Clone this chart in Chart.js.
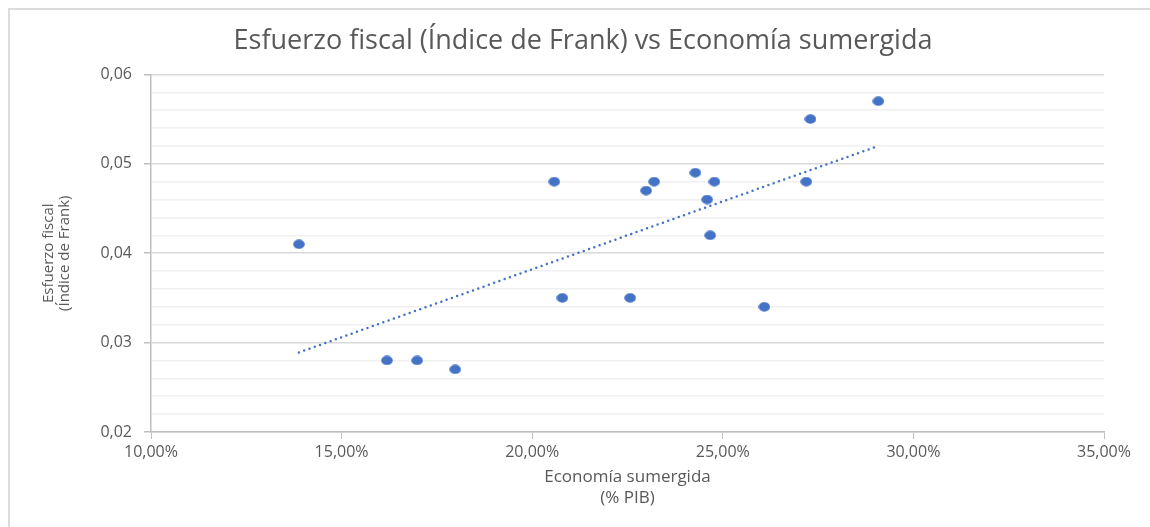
<!DOCTYPE html>
<html lang="es">
<head>
    <meta charset="UTF-8">
    <title>Esfuerzo fiscal vs Economía sumergida</title>
    <script src="https://cdn.jsdelivr.net/npm/chart.js"></script>
    <style>
        html, body { margin: 0; padding: 0; background: #fff; }
        .frame {
            position: absolute; left: 8px; top: 8px; width: 1142px; height: 519px;
            border-top: 2px solid #dcdcdc; border-left: 2px solid #dcdcdc;
        }
        .chart-box { position: absolute; left: 0; top: 0; width: 1150px; height: 527px; }
    </style>
</head>
<body>
    <div class="frame"></div>
    <div class="chart-box"><canvas id="grafico"></canvas></div>

    <script>
        // Datos
        const economiaSumergida = [13.88, 16.19, 16.98, 17.98, 20.58, 20.79, 22.57, 22.99, 23.2, 24.28, 24.59, 24.78, 24.67, 26.09, 27.19, 27.3, 29.08];
        const esfuerzoFiscal = [0.041, 0.028, 0.028, 0.027, 0.048, 0.035, 0.035, 0.047, 0.048, 0.049, 0.046, 0.048, 0.042, 0.034, 0.048, 0.055, 0.057];

        // Línea de tendencia (extremos)
        const tendenciaX = [13.88, 29.08];
        const tendenciaY = [0.0289, 0.0520];

        const azul = '#4472C4';
        const gris = '#595959';

        // Marcador ligeramente ovalado como en el original
        const punto = document.createElement('canvas');
        punto.width = 12; punto.height = 10;
        const pc = punto.getContext('2d');
        pc.fillStyle = azul;
        pc.beginPath();
        pc.ellipse(6, 5, 5.8, 4.7, 0, 0, 2 * Math.PI);
        pc.fill();

        const esMayor = v => Math.round(v * 1000) % 10 === 0;

        const ctx = document.getElementById('grafico').getContext('2d');
        new Chart(ctx, {
            type: 'scatter',
            data: {
                datasets: [{
                    label: 'Países',
                    data: economiaSumergida.map((x, i) => ({ x: x, y: esfuerzoFiscal[i] })),
                    pointStyle: punto,
                    pointRadius: 6,
                    order: 1
                }, {
                    label: 'Tendencia',
                    data: tendenciaX.map((x, i) => ({ x: x, y: tendenciaY[i] })),
                    showLine: true,
                    borderColor: azul,
                    borderWidth: 2.5,
                    borderDash: [0, 5.6],
                    borderCapStyle: 'round',
                    pointRadius: 0,
                    order: 2
                }]
            },
            options: {
                responsive: true,
                maintainAspectRatio: false,
                animation: false,
                layout: { padding: { left: 16, right: 0, top: 0, bottom: 0 } },
                plugins: {
                    legend: { display: false },
                    tooltip: { enabled: false },
                    title: {
                        display: true,
                        text: 'Esfuerzo fiscal (Índice de Frank) vs Economía sumergida',
                        color: gris,
                        font: { family: 'Open Sans', size: 27, weight: 'normal', lineHeight: 1.2 },
                        padding: { top: 25, bottom: 17 }
                    }
                },
                scales: {
                    x: {
                        min: 10,
                        max: 35,
                        afterFit: s => { s.height = 95; s.paddingRight = 46; },
                        ticks: {
                            stepSize: 5,
                            color: gris,
                            padding: 4,
                            font: { family: 'Open Sans', size: 16 },
                            callback: v => v.toFixed(2).replace('.', ',') + '%'
                        },
                        grid: { drawOnChartArea: false, tickLength: 7, color: '#bfbfbf' },
                        border: { color: '#bfbfbf', width: 1.5 },
                        title: {
                            display: true,
                            text: ['Economía sumergida', '(% PIB)'],
                            color: gris,
                            font: { family: 'Open Sans', size: 17, lineHeight: 1.2 },
                            padding: { bottom: 19 }
                        }
                    },
                    y: {
                        min: 0.02,
                        max: 0.06,
                        afterFit: s => { s.width = 135; },
                        ticks: {
                            stepSize: 0.002,
                            color: gris,
                            padding: 12,
                            autoSkip: false,
                            font: { family: 'Open Sans', size: 16 },
                            callback: v => esMayor(v) ? v.toFixed(2).replace('.', ',') : ''
                        },
                        grid: {
                            color: c => esMayor(c.tick.value) ? '#d9d9d9' : '#f0f0f0',
                            tickColor: c => esMayor(c.tick.value) ? '#bfbfbf' : 'rgba(0,0,0,0)',
                            lineWidth: 1.5,
                            tickLength: 7
                        },
                        border: { color: '#bfbfbf', width: 1.5 },
                        title: {
                            display: true,
                            text: ['Esfuerzo fiscal', '(Índice de Frank)'],
                            color: gris,
                            font: { family: 'Open Sans', size: 15, lineHeight: 1.1 },
                            padding: { top: 24 }
                        }
                    }
                }
            }
        });
    </script>
</body>
</html>
